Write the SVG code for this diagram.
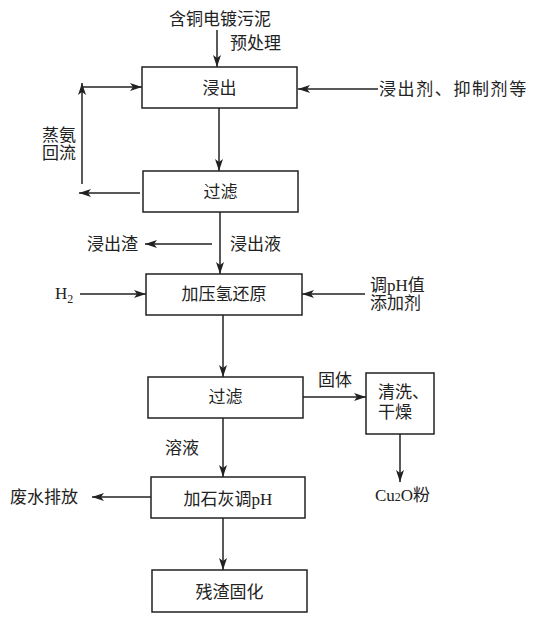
<svg xmlns="http://www.w3.org/2000/svg" width="545" height="625" viewBox="0 0 545 625">
<style>
.box{fill:#fff;stroke:#222;stroke-width:1.5}
.ln{fill:none;stroke:#222;stroke-width:1.5}
.t{font-family:"Liberation Serif","Noto Sans CJK SC",serif;font-size:17px;fill:#222}
.c{text-anchor:middle}
</style>
<defs>
<marker id="ah" viewBox="0 0 12 8" refX="12" refY="4" markerWidth="12" markerHeight="8" markerUnits="userSpaceOnUse" orient="auto">
<path d="M0,0 L12,4 L0,8 L3,4 Z" fill="#222"/>
</marker>
</defs>
<rect width="545" height="625" fill="#fff"/>
<g id="connectors">
<line class="ln" x1="217" y1="30" x2="217" y2="67" marker-end="url(#ah)"/>
<line class="ln" x1="378" y1="89" x2="298" y2="89" marker-end="url(#ah)"/>
<line class="ln" x1="140" y1="193" x2="79" y2="193" marker-end="url(#ah)"/>
<line class="ln" x1="82" y1="184" x2="82" y2="83" marker-end="url(#ah)"/>
<line class="ln" x1="82" y1="87" x2="142" y2="87" marker-end="url(#ah)"/>
<line class="ln" x1="219" y1="108" x2="219" y2="171" marker-end="url(#ah)"/>
<line class="ln" x1="220" y1="212" x2="220" y2="274" marker-end="url(#ah)"/>
<line class="ln" x1="212" y1="244" x2="145" y2="244" marker-end="url(#ah)"/>
<line class="ln" x1="80" y1="294" x2="146" y2="294" marker-end="url(#ah)"/>
<line class="ln" x1="365" y1="294" x2="302" y2="294" marker-end="url(#ah)"/>
<line class="ln" x1="223" y1="315" x2="223" y2="377" marker-end="url(#ah)"/>
<line class="ln" x1="303" y1="397" x2="366" y2="397" marker-end="url(#ah)"/>
<line class="ln" x1="400" y1="434" x2="400" y2="482" marker-end="url(#ah)"/>
<line class="ln" x1="223" y1="418" x2="223" y2="477" marker-end="url(#ah)"/>
<line class="ln" x1="151" y1="497" x2="92" y2="497" marker-end="url(#ah)"/>
<line class="ln" x1="223" y1="518" x2="223" y2="570" marker-end="url(#ah)"/>
</g>
<g id="labels">
<text class="t c" x="220" y="25">含铜电镀污泥</text>
<text class="t" x="230" y="49">预处理</text>
<text class="t" x="379" y="95" letter-spacing="1.6">浸出剂、抑制剂等</text>
<text class="t" x="42" y="141">蒸氨</text>
<text class="t" x="42" y="159">回流</text>
<text class="t" x="87" y="250">浸出渣</text>
<text class="t" x="230" y="250">浸出液</text>
<text class="t" x="55" y="299">H<tspan font-size="12" dy="4">2</tspan></text>
<text class="t" x="370" y="291">调pH值</text>
<text class="t" x="370" y="309">添加剂</text>
<text class="t" x="318" y="386">固体</text>
<text class="t" x="165" y="454">溶液</text>
<text class="t" x="375" y="501">Cu<tspan font-size="12">2</tspan>O粉</text>
<text class="t" x="10" y="503">废水排放</text>
</g>
<g id="n1"><rect class="box" x="142" y="67" width="155" height="41"/><text class="t c" x="219.5" y="94">浸出</text></g>
<g id="n2"><rect class="box" x="143" y="171" width="155" height="41"/><text class="t c" x="220.5" y="198">过滤</text></g>
<g id="n3"><rect class="box" x="146" y="274" width="156" height="41"/><text class="t c" x="224" y="300">加压氢还原</text></g>
<g id="n4"><rect class="box" x="148" y="377" width="155" height="41"/><text class="t c" x="225.5" y="403">过滤</text></g>
<g id="n5"><rect class="box" x="366" y="373" width="68" height="61"/><text class="t" x="378" y="398">清洗、</text><text class="t" x="378" y="418">干燥</text></g>
<g id="n6"><rect class="box" x="151" y="477" width="154" height="41"/><text class="t c" x="228" y="505">加石灰调pH</text></g>
<g id="n7"><rect class="box" x="152" y="570" width="155" height="42"/><text class="t c" x="229.5" y="598">残渣固化</text></g>
</svg>
